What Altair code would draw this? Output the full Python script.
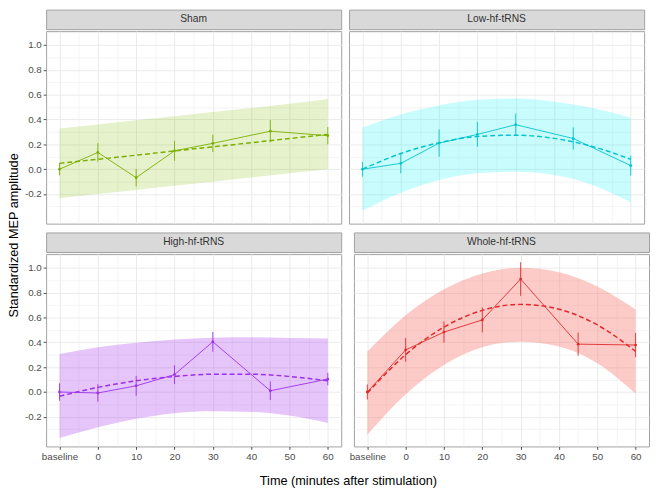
import altair as alt
import pandas as pd

groups = ["Sham", "Low-hf-tRNS", "High-hf-tRNS", "Whole-hf-tRNS"]

line_colors = {
    "Sham": "#7CAE00",
    "Low-hf-tRNS": "#00C4CC",
    "High-hf-tRNS": "#9A30E8",
    "Whole-hf-tRNS": "#E0282A",
}
band_colors = {
    "Sham": "#80C000",
    "Low-hf-tRNS": "#00F0F5",
    "High-hf-tRNS": "#A020F0",
    "Whole-hf-tRNS": "#F8766D",
}
band_opacity = {
    "Sham": 0.2,
    "Low-hf-tRNS": 0.21,
    "High-hf-tRNS": 0.26,
    "Whole-hf-tRNS": 0.38,
}

obs_time = [-10, 0, 10, 20, 30, 45, 60]
obs_mean = {
    "Sham": [0.0, 0.135, -0.068, 0.148, 0.208, 0.306, 0.27],
    "Low-hf-tRNS": [0.0, 0.047, 0.21, 0.28, 0.358, 0.247, 0.029],
    "High-hf-tRNS": [0.0, -0.008, 0.05, 0.14, 0.404, 0.01, 0.104],
    "Whole-hf-tRNS": [0.0, 0.339, 0.482, 0.58, 0.909, 0.385, 0.378],
}
obs_err = {
    "Sham": [0.05, 0.075, 0.07, 0.08, 0.07, 0.09, 0.07],
    "Low-hf-tRNS": [0.06, 0.08, 0.11, 0.1, 0.09, 0.09, 0.08],
    "High-hf-tRNS": [0.07, 0.07, 0.08, 0.075, 0.08, 0.075, 0.05],
    "Whole-hf-tRNS": [0.06, 0.095, 0.085, 0.1, 0.135, 0.093, 0.097],
}

fit_time = [-10, 0, 10, 20, 30, 40, 50, 60]
fit_mean = {
    "Sham": [0.047, 0.080, 0.113, 0.147, 0.180, 0.213, 0.247, 0.28],
    "Low-hf-tRNS": [0.0, 0.126, 0.213, 0.263, 0.274, 0.248, 0.183, 0.08],
    "High-hf-tRNS": [-0.034, 0.037, 0.09, 0.125, 0.143, 0.143, 0.125, 0.09],
    "Whole-hf-tRNS": [-0.008, 0.300, 0.522, 0.657, 0.705, 0.666, 0.540, 0.327],
}
fit_lower = {
    "Sham": [-0.233, -0.200, -0.167, -0.133, -0.100, -0.067, -0.033, 0.000],
    "Low-hf-tRNS": [-0.335, -0.189, -0.087, -0.032, -0.021, -0.047, -0.127, -0.265],
    "High-hf-tRNS": [-0.37, -0.283, -0.215, -0.17, -0.155, -0.16, -0.19, -0.25],
    "Whole-hf-tRNS": [-0.344, -0.018, 0.218, 0.36, 0.405, 0.367, 0.232, -0.013],
}
fit_upper = {
    "Sham": [0.327, 0.360, 0.393, 0.427, 0.460, 0.493, 0.527, 0.565],
    "Low-hf-tRNS": [0.335, 0.441, 0.513, 0.558, 0.569, 0.543, 0.493, 0.415],
    "High-hf-tRNS": [0.305, 0.36, 0.397, 0.423, 0.437, 0.44, 0.435, 0.43],
    "Whole-hf-tRNS": [0.325, 0.618, 0.826, 0.953, 1.0, 0.964, 0.849, 0.664],
}

x_ticks = [-10, -5, 0, 5, 10, 15, 20, 25, 30, 35, 40, 45, 50, 55, 60]
y_ticks = [-0.3, -0.2, -0.1, 0.0, 0.1, 0.2, 0.3, 0.4, 0.5, 0.6, 0.7, 0.8, 0.9, 1.0, 1.1]
x_domain = [-13.5, 63.5]
y_domain = [-0.438, 1.111]

FONT = "Liberation Sans"
W = 302
H = 197
GRID = "#ebebeb"
BORDER = "#a0a0a0"

x_major = "datum.value % 10 == 0"
y_minor = "abs(round(datum.value * 10)) % 2 == 1"


def x_axis(show):
    return alt.Axis(
        values=x_ticks, title=None, grid=True, gridColor=GRID,
        gridWidth={"condition": {"test": x_major, "value": 1.0}, "value": 0.5},
        labelExpr="datum.value == -10 ? 'baseline' : (datum.value % 10 == 0 ? datum.label : '')",
        labels=show, ticks=show, domain=False,
        tickOpacity={"condition": {"test": x_major, "value": 1}, "value": 0},
        labelFontSize=10, labelColor="#4d4d4d", tickColor="#4d4d4d",
        tickSize=3, labelPadding=2, labelFont=FONT,
    )


def y_axis(show):
    return alt.Axis(
        values=y_ticks, title=None, grid=True, gridColor=GRID,
        gridWidth={"condition": {"test": y_minor, "value": 0.5}, "value": 1.0},
        labelExpr=(
            "abs(round(datum.value * 10)) % 2 == 1 ? '' : "
            "(datum.value < -0.001 ? '-' + format(-datum.value, '.1f') : format(abs(datum.value), '.1f'))"
        ),
        labels=show, ticks=show, domain=False,
        tickOpacity={"condition": {"test": y_minor, "value": 0}, "value": 1},
        labelFontSize=10, labelColor="#4d4d4d", tickColor="#4d4d4d",
        tickSize=3, labelPadding=2, labelFont=FONT,
    )


def panel(g, show_x, show_y):
    obs = pd.DataFrame({"t": obs_time, "m": obs_mean[g], "e": obs_err[g]})
    fit = pd.DataFrame({"t": fit_time, "f": fit_mean[g], "lo": fit_lower[g], "hi": fit_upper[g]})
    xs = alt.Scale(domain=x_domain, nice=False, zero=False)
    ys = alt.Scale(domain=y_domain, nice=False, zero=False)

    def X():
        return alt.X("t:Q", scale=xs, axis=x_axis(show_x))

    def Y(field):
        return alt.Y(field, scale=ys, axis=y_axis(show_y))

    c = line_colors[g]
    band = alt.Chart(fit).mark_area(
        color=band_colors[g], opacity=band_opacity[g], interpolate="monotone"
    ).encode(x=X(), y=Y("lo:Q"), y2="hi:Q")
    dashed = alt.Chart(fit).mark_line(
        color=c, strokeDash=[5, 3], strokeWidth=1.5, interpolate="monotone"
    ).encode(x=X(), y=Y("f:Q"))
    line = alt.Chart(obs).mark_line(color=c, strokeWidth=0.9).encode(x=X(), y=Y("m:Q"))
    bars = alt.Chart(obs).transform_calculate(
        lo="datum.m - datum.e", hi="datum.m + datum.e"
    ).mark_rule(color=c, strokeWidth=0.9).encode(x=X(), y=Y("lo:Q"), y2="hi:Q")
    pts = alt.Chart(obs).mark_circle(color=c, size=8, opacity=1).encode(x=X(), y=Y("m:Q"))
    plot = alt.layer(band, dashed, line, bars, pts).properties(width=W, height=H)

    strip = alt.Chart(pd.DataFrame({"g": [g]})).mark_text(
        font=FONT, fontSize=10.5, fontWeight=400, color="#333333",
        baseline="middle", align="center"
    ).encode(
        text="g:N", x=alt.value(W / 2), y=alt.value(10)
    ).properties(
        width=W, height=20,
        view=alt.ViewBackground(fill="#d9d9d9", stroke=BORDER, strokeWidth=1, cornerRadius=0),
    )
    return alt.vconcat(strip, plot, spacing=0)


row1 = alt.hconcat(panel("Sham", False, True), panel("Low-hf-tRNS", False, False), spacing=6)
row2 = alt.hconcat(panel("High-hf-tRNS", True, True), panel("Whole-hf-tRNS", True, False), spacing=6)

inner = alt.vconcat(
    row1, row2, spacing=7,
    title=alt.TitleParams(
        "Standardized MEP amplitude", orient="left", anchor="middle",
        fontSize=13, fontWeight="normal", font=FONT, color="#000000", offset=3,
    ),
)

chart = alt.vconcat(
    inner,
    title=alt.TitleParams(
        "Time (minutes after stimulation)", orient="bottom", anchor="middle",
        fontSize=13, fontWeight="normal", font=FONT, color="#000000", offset=14, dx=20,
    ),
).properties(
    padding={"left": 0, "top": -5, "right": 0, "bottom": 0}
).configure(font=FONT).configure_view(stroke=BORDER, strokeWidth=1)

chart.save("out.html", embed_options={"renderer": "svg", "actions": False})
